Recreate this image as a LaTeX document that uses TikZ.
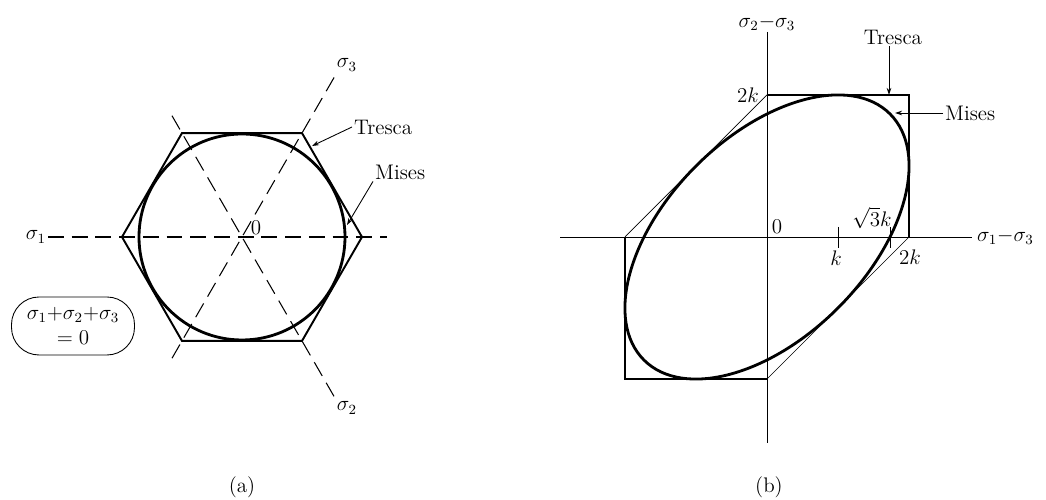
\documentclass[tikz,border=0pt]{standalone}
\usepackage{amsmath}
\usepackage{amssymb}
\usepackage{tikz}
\usetikzlibrary{arrows.meta,positioning,calc}

\begin{document}
\begin{tikzpicture}[
    x=0.02cm, y=0.02cm,
    >={Stealth[length=4pt,width=2.6pt]},
    yield/.style={line width=1.6pt},
    tres/.style={line width=1.1pt, line join=miter},
    thinedge/.style={line width=0.4pt},
    axis/.style={line width=0.55pt},
    daxis/.style={line width=0.6pt, dash pattern=on 9pt off 4.5pt},
    lbl/.style={font=\large, inner sep=1pt},
    arr/.style={->, line width=0.5pt},
    cond/.style={draw, line width=0.5pt, rounded corners=0.55cm, align=center,
                 minimum width=2.46cm, minimum height=1.16cm, inner sep=1pt,
                 font=\large}
  ]
    \useasboundingbox (0,0) rectangle (1046,500);

    %--- (a) deviatoric plane ---
    \begin{scope}[shift={(242,263)}]
      \coordinate (oa) at (0,0);
      \draw[daxis] (-194,0) -- (145,0);
      \draw[daxis] (240:140) -- (60:186);
      \draw[daxis] (120:140) -- (300:184);
      \draw[tres] (0:120) -- (60:120) -- (120:120) -- (180:120)
                  -- (240:120) -- (300:120) -- cycle;
      \draw[yield] (oa) circle [radius=103];

      \node[lbl, anchor=east] (s1)  at (-194,0)  {$\sigma_1$};
      \node[lbl]              (s3)  at (105,172) {$\sigma_3$};
      \node[lbl]              (s2)  at (105,-171) {$\sigma_2$};
      \node[lbl]              (za)  at (14,9)    {$0$};

      \node[lbl, anchor=west] (tra) at (110,110) {Tresca};
      \node[lbl, anchor=west] (mia) at (131,65)  {Mises};
      \coordinate (tra-tip) at (70,91);
      \coordinate (mia-tip) at (105,12);
      \draw[arr] (tra.west) -- (tra-tip);
      \draw[arr] (mia.south west) -- (mia-tip);
    \end{scope}

    \node[cond] (plane) at (73,174) {$\sigma_1{+}\sigma_2{+}\sigma_3$\\$=0$};
    \node[lbl] (capa) at (242,13) {(a)};

    %--- (b) plane stress in difference coordinates ---
    \begin{scope}[shift={(767,263)}]
      \coordinate (ob) at (0,0);
      \draw[axis] (-207,0) -- (205,0);
      \draw[axis] (0,205) -- (0,-206);
      \draw[tres] (0,142) -- (142,142) -- (142,0);
      \draw[tres] (-142,0) -- (-142,-142) -- (0,-142);
      \draw[thinedge] (-142,0) -- (0,142);
      \draw[thinedge] (0,-142) -- (142,0);
      \draw[yield, rotate=45] (ob) ellipse [x radius=174, y radius=100.4];
      \draw[axis] (71,10) -- (71,-11);
      \draw[axis] (123,10) -- (123,-11);

      \node[lbl, anchor=west] (x13) at (208,0)   {$\sigma_1{-}\sigma_3$};
      \node[lbl]              (y23) at (0,214)   {$\sigma_2{-}\sigma_3$};
      \node[lbl]              (zb)  at (10,10)   {$0$};
      \node[lbl]              (kk)  at (69,-21)  {$k$};
      \node[lbl]              (r3k) at (105,19)  {$\sqrt{3}k$};
      \node[lbl]              (tkx) at (143,-20) {$2k$};
      \node[lbl]              (tky) at (-19,142) {$2k$};

      \node[lbl]              (trb) at (126,200) {Tresca};
      \node[lbl, anchor=west] (mib) at (176,124) {Mises};
      \coordinate (trb-tip) at (122,142);
      \coordinate (mib-tip) at (128,124);
      \draw[arr] (trb.south -| trb-tip) -- (trb-tip);
      \draw[arr] (mib.west) -- (mib-tip);
    \end{scope}

    \node[lbl] (capb) at (769,13) {(b)};
  \end{tikzpicture}
\end{document}
